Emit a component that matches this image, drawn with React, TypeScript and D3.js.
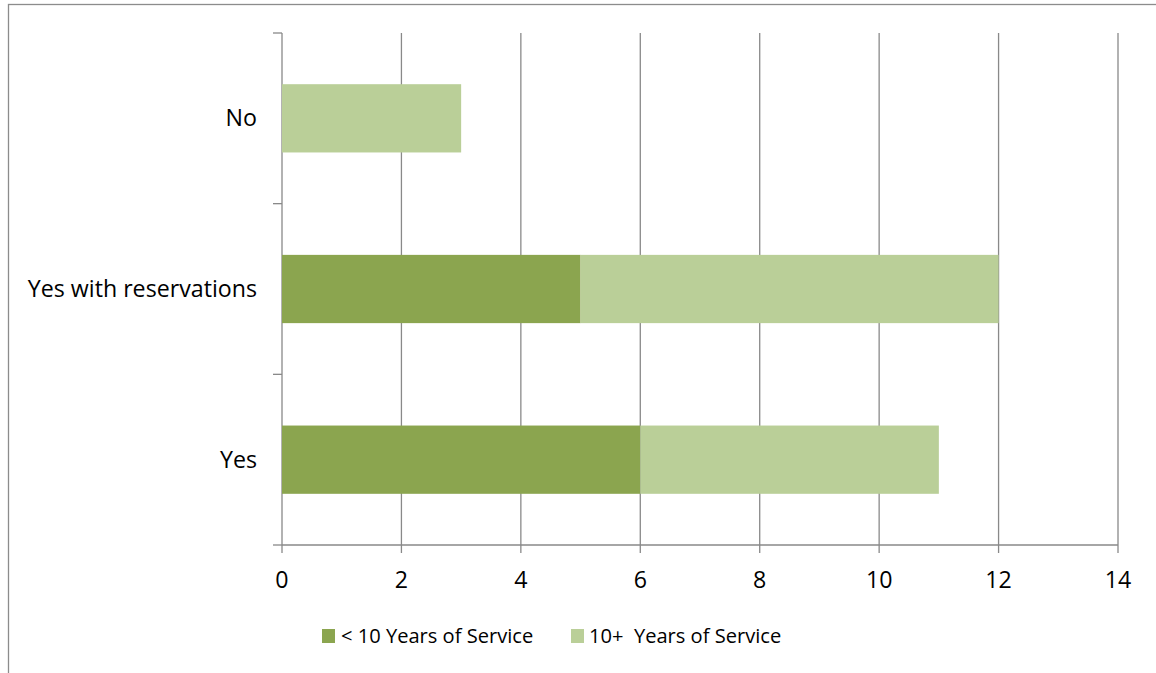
import React from "react";
import * as d3 from "d3";

const categories = ["Yes", "Yes with reservations", "No"];
const seriesNames = ["< 10 Years of Service", "10+  Years of Service"];
const lessThan10 = [6, 5, 0];
const tenPlus = [5, 7, 3];
const xTicks = [0, 2, 4, 6, 8, 10, 12, 14];
const colors = ["#8ba54f", "#bacf98"];

const W = 1156;
const H = 673;
const FONT = "'Open Sans', sans-serif";
const LABEL_SIZE = 23.2;
const LEGEND_SIZE = 20.1;

export default function App() {
  const x = d3.scaleLinear().domain([0, 14]).range([282, 1118]);
  const y = d3
    .scaleBand<string>()
    .domain(categories)
    .range([545, 33])
    .paddingInner(0.6)
    .paddingOuter(0.3);
  const step = y.step();
  const catBoundaries = d3.range(categories.length + 1).map((i) => 545 - i * step);
  const grid = "#898989";

  const stacked = d3.stack<any>().keys(["a", "b"])(
    categories.map((c, i) => ({ cat: c, a: lessThan10[i], b: tenPlus[i] }))
  );

  const legendItems = [
    { name: seriesNames[0], color: colors[0], sx: 322, tx: 341 },
    { name: seriesNames[1], color: colors[1], sx: 571, tx: 589 },
  ];

  return (
    <svg
      width={W}
      height={H}
      style={{ position: "absolute", left: 0, top: 0, background: "#fff" }}
      fontFamily={FONT}
    >
      <rect x={8.5} y={4.5} width={1200} height={720} fill="#fff" stroke="#8c8c8c" strokeWidth={1.3} />
      {xTicks.map((t) => (
        <line key={"g" + t} x1={x(t)} x2={x(t)} y1={33} y2={553} stroke={grid} strokeWidth={1.3} />
      ))}
      {catBoundaries.map((b, i) => (
        <line key={"ct" + i} x1={273} x2={x(0)} y1={b} y2={b} stroke={grid} strokeWidth={1.3} />
      ))}
      <line x1={x(0)} x2={x(14)} y1={545} y2={545} stroke={grid} strokeWidth={1.3} />
      {stacked.map((s, si) =>
        s.map((d: any, i: number) => {
          const w = x(d[1]) - x(d[0]);
          if (w <= 0) return null;
          return (
            <rect
              key={si + "-" + i}
              x={x(d[0])}
              y={y(d.data.cat)!}
              width={w}
              height={y.bandwidth()}
              fill={colors[si]}
            />
          );
        })
      )}
      {xTicks.map((t) => (
        <text key={"xl" + t} x={x(t)} y={588} textAnchor="middle" fontSize={LABEL_SIZE} fill="#000">
          {t}
        </text>
      ))}
      {categories.map((c) => (
        <text
          key={"cl" + c}
          x={257}
          y={y(c)! + y.bandwidth() / 2 + 8}
          textAnchor="end"
          fontSize={LABEL_SIZE}
          fill="#000"
        >
          {c}
        </text>
      ))}
      {legendItems.map((l) => (
        <g key={l.name}>
          <rect x={l.sx} y={629} width={13} height={14} fill={l.color} />
          <text x={l.tx} y={643} fontSize={LEGEND_SIZE} fill="#000" style={{ whiteSpace: "pre" }}>
            {l.name}
          </text>
        </g>
      ))}
    </svg>
  );
}
